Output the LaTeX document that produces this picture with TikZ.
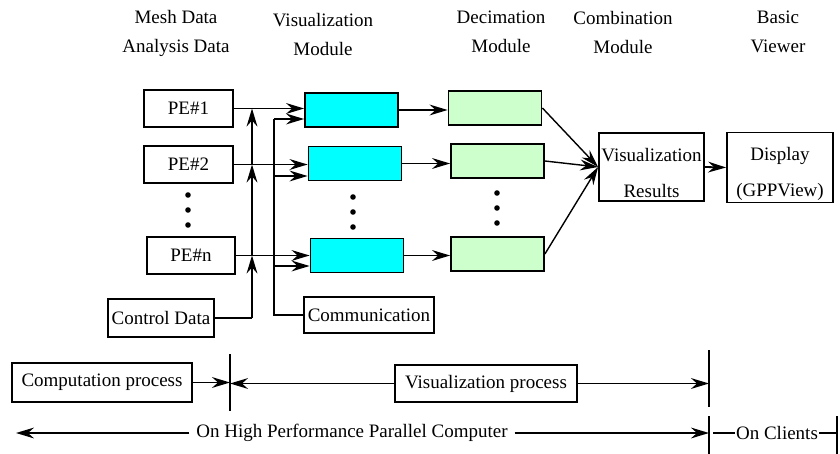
\documentclass[tikz,border=0pt]{standalone}
\usepackage{fontspec}
\setmainfont{Liberation Serif}
\usetikzlibrary{arrows.meta,calc}
\definecolor{vizcyan}{HTML}{00FFFF}
\definecolor{decgreen}{HTML}{CCFFCC}

\begin{document}
\begin{tikzpicture}[x=0.5pt,y=-0.5pt,font=\fontsize{9.5}{14.5}\selectfont,
  box/.style={draw,line width=0.9pt,inner sep=1pt,align=center},
  modbox/.style={draw,line width=0.9pt,minimum width=46.5pt,minimum height=17pt},
  arr/.style={-{Stealth[length=9pt,width=5.4pt,inset=3pt]},line width=0.9pt},
  ln/.style={line width=0.9pt}]
\useasboundingbox (0,0) rectangle (840,454);
\node[align=center] (hdata) at (176,33) {Mesh Data\\Analysis Data};
\node[align=center] (hvis) at (323,35) {Visualization\\Module};
\node[align=center] (hdec) at (501,32) {Decimation\\Module};
\node[align=center] (hcomb) at (623,33) {Combination\\Module};
\node[align=center] (hview) at (778,32) {Basic\\Viewer};
\node[box,minimum width=44.5pt,minimum height=18.5pt] (pe1) at (188.5,108.5) {PE\#1};
\node[box,minimum width=44.5pt,minimum height=18.5pt] (pe2) at (188.5,164.5) {PE\#2};
\node[box,minimum width=44pt,minimum height=18.5pt] (pen) at (191,255.5) {PE\#n};
\node[box,minimum width=53pt,minimum height=19pt] (ctrl) at (161,318) {Control Data};
\node[box,minimum width=65pt,minimum height=18pt] (comm) at (369,315) {Communication};
\node[modbox,fill=vizcyan] (viz1) at (351.5,110) {};
\node[modbox,fill=vizcyan] (viz2) at (355,163.5) {};
\node[modbox,fill=vizcyan] (vizn) at (357,255.5) {};
\node[modbox,fill=decgreen] (dec1) at (495,108) {};
\node[modbox,fill=decgreen] (dec2) at (497.5,161) {};
\node[modbox,fill=decgreen] (decn) at (497.5,254) {};
\node[box,minimum width=52.5pt,minimum height=34pt,font=\fontsize{9.5}{18}\selectfont] (results) at (651.5,167) {\rule{0pt}{13pt}Visualization\\Results};
\node[box,minimum width=53pt,minimum height=33.5pt,font=\fontsize{9.5}{18}\selectfont] (display) at (780,167.5) {\rule{0pt}{13pt}Display\\(GPPView)};
\foreach \x/\y in {188/195,353/197,497/193}{
  \foreach \k in {0,1,2} \fill (\x,\y+15*\k) circle (2.8);
}
\coordinate (kb) at (252,318);
\coordinate (cb1) at (274,119);
\coordinate (cb2) at (274,176);
\coordinate (cbn) at (274,266);
\draw[ln] (ctrl.east) -- (kb);
\draw[arr] (kb) -- (kb |- pen.east);
\draw[arr] (kb |- pen.east) -- (kb |- pe2.east);
\draw[arr] (kb |- pe2.east) -- (kb |- pe1.east);
\draw[ln] (comm.west) -| (cb1);
\foreach \r in {1,2,n}{
  \draw[arr] (pe\r.east) -- (pe\r.east -| viz\r.west);
  \draw[arr] (cb\r) -- (cb\r -| viz\r.west);
  \draw[arr] (viz\r.east) -- (viz\r.east -| dec\r.west);
  \draw[arr,line width=0.7pt] (dec\r.east) -- (results.west);
}
\draw[arr] (results.east) -- (display.west);
\node[box,minimum width=90pt,minimum height=19.5pt] (comp) at (102,382.5) {Computation process};
\node[box,minimum width=91pt,minimum height=18.5pt] (vproc) at (486,383.5) {Visualization process};
\coordinate (bA) at (230,383);
\coordinate (bB) at (709,383);
\draw[ln] (230,354) -- (230,411);
\draw[ln] (709,350) -- (709,407);
\draw[arr] (comp.east) -- (comp.east -| bA);
\draw[arr] (vproc.west) -- (vproc.west -| bA);
\draw[arr] (vproc.east) -- (vproc.east -| bB);
\node (hpc) at (352,433) {On High Performance Parallel Computer};
\node[inner sep=0.5pt] (cli) at (777,433) {On Clients};
\coordinate (hpcL) at (16,433);
\coordinate (bC) at (709,433);
\coordinate (bD) at (837,433);
\draw[ln] (709,416) -- (709,454);
\draw[ln] (837,416) -- (837,454);
\draw[arr] (hpc.west) -- (hpcL);
\draw[arr] (hpc.east) -- (bC);
\draw[ln] (bC) ++(4,0) -- (cli.west);
\draw[ln] (cli.east) -- (bD);
\end{tikzpicture}
\end{document}
